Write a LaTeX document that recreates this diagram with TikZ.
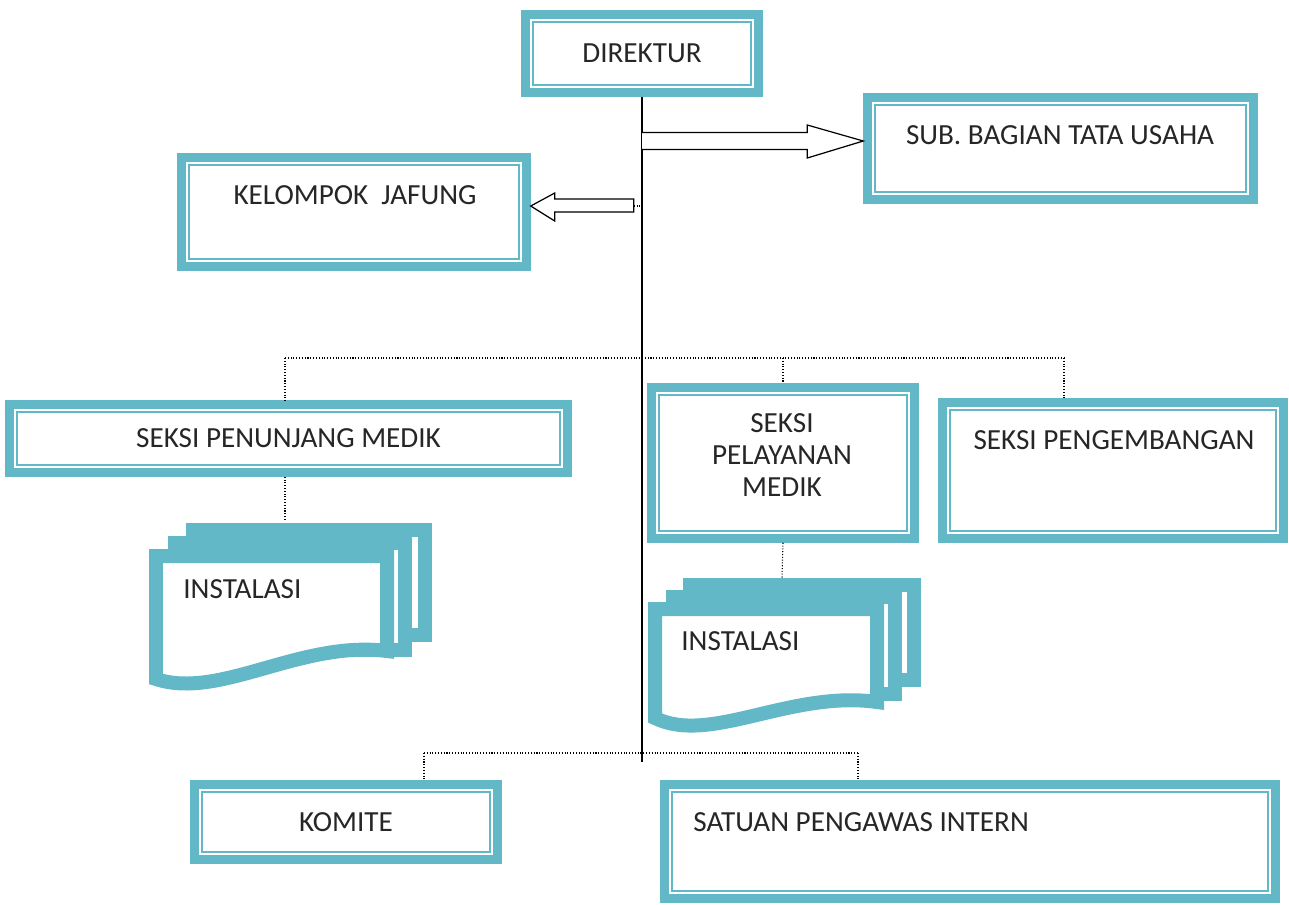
\documentclass[tikz,border=0pt]{standalone}
\usepackage{fontspec}
\setmainfont{Carlito}
\usepackage{tikz}
\usetikzlibrary{positioning, calc}
\definecolor{boxteal}{RGB}{98,184,199}

\begin{document}
\begin{tikzpicture}[
    x=0.02cm, y=-0.02cm,
    % Text and box styles
    txt/.style={font=\fontsize{16.6}{18}\selectfont, text=black!85, align=center, inner sep=0pt},
    orgbox/.style={draw=boxteal, line width=0.17cm, fill=white, inner sep=0pt, txt,
        path picture={\draw[boxteal, line width=0.04cm]
            ([shift={(0.145cm,0.145cm)}]path picture bounding box.south west) rectangle
            ([shift={(-0.145cm,-0.145cm)}]path picture bounding box.north east);}},
    docpage/.style={draw=boxteal, line width=0.28cm, fill=white, line join=miter},
    % Connector styles
    dotline/.style={densely dotted, line width=0.6pt},
    spine/.style={line width=0.7pt},
    hollowarrow/.style={draw, fill=white, line width=0.7pt, line join=miter}
]
\useasboundingbox (0,0) rectangle (1289,904);

% Fixed points of the connectors
\coordinate (spineend) at (642,762);
\coordinate (busL) at (285,358);
\coordinate (busR) at (1064,358);
\coordinate (botL) at (424,753);
\coordinate (botR) at (858,753);
\coordinate (md1top) at (285,521);
\coordinate (md2top) at (782,578);

% Boxes
\node[orgbox, minimum width=4.66cm, minimum height=1.56cm] (dir) at (642,53.5) {DIREKTUR};
\node[orgbox, minimum width=7.72cm, minimum height=2.04cm] (sub) at (1060.5,148.5) {};
\node[orgbox, minimum width=6.90cm, minimum height=2.18cm] (jaf) at (354,212) {};
\node[orgbox, minimum width=11.16cm, minimum height=1.36cm] (pen) at (288.5,438.5) {SEKSI PENUNJANG MEDIK};
\node[orgbox, minimum width=5.26cm, minimum height=3.02cm] (pel) at (783,463) {};
\node[orgbox, minimum width=6.82cm, minimum height=2.72cm] (peng) at (1113,470.5) {};
\node[orgbox, minimum width=6.06cm, minimum height=1.50cm] (kom) at (346,822) {KOMITE};
\node[orgbox, minimum width=12.22cm, minimum height=2.28cm] (spi) at (970,841.5) {};

% Texts placed near the top of their boxes
\node[txt] (subtxt) at (1060,135) {SUB. BAGIAN TATA USAHA};
\node[txt] (jaftxt) at (355,195) {KELOMPOK\ \ JAFUNG};
\node[txt] (peltxt) at (782,455) {SEKSI\\PELAYANAN\\MEDIK};
\node[txt] (pengtxt) at (1114,440) {SEKSI PENGEMBANGAN};
\node[txt, anchor=west] (spitxt) at (693,822) {SATUAN PENGAWAS INTERN};

% Connectors
\draw[spine] (dir.south) -- (spineend);
\draw[dotline] (busL) -- (busR);
\draw[dotline] (busL) -- (busL |- pen.north);
\draw[dotline] (pel.north |- busL) -- (pel.north);
\draw[dotline] (busR) -- (busR |- peng.north);
\draw[dotline] (botL) -- (botR);
\draw[dotline] (botL) -- (botL |- kom.north);
\draw[dotline] (botR) -- (botR |- spi.north);
\draw[dotline] (busL |- pen.south) -- (md1top);
\draw[dotline] (pel.south) -- (md2top);

% Instalasi under Seksi Penunjang Medik
\draw[docpage] (193,530) rectangle (425,635);
\draw[docpage] (175,543) rectangle (405,650);
\draw[docpage] (156,556) -- (387,556) -- (387,651) .. controls (300,640) and (220,700) .. (156,679) -- cycle;
\node[txt, anchor=west] (ins1) at (183,589) {INSTALASI};

% Instalasi under Seksi Pelayanan Medik
\draw[docpage] (690,585) rectangle (914,680);
\draw[docpage] (673,597) rectangle (895,694);
\draw[docpage] (655,609) -- (877,609) -- (877,702) .. controls (790,690) and (710,745) .. (655,718) -- cycle;
\node[txt, anchor=west] (ins2) at (681,641) {INSTALASI};

% Hollow arrows from the spine
\coordinate (subtip) at ([yshift=0.15cm]sub.west);
\coordinate (jaftip) at ([yshift=0.12cm]jaf.east);
\draw[hollowarrow] ($(dir.south |- subtip)+(0,-8.5)$) -- ($(subtip)+(-56,-8.5)$) -- ($(subtip)+(-56,-16)$)
    -- (subtip) -- ($(subtip)+(-56,17)$) -- ($(subtip)+(-56,8.5)$) -- ($(dir.south |- subtip)+(0,8.5)$);
\draw[hollowarrow] ($(jaftip)+(103,-7)$) -- ($(jaftip)+(24,-7)$) -- ($(jaftip)+(24,-13)$)
    -- (jaftip) -- ($(jaftip)+(24,15)$) -- ($(jaftip)+(24,6)$) -- ($(jaftip)+(103,6)$) -- cycle;
\draw[dotline] ($(jaftip)+(103,0)$) -- (dir.south |- jaftip);

\end{tikzpicture}
\end{document}
